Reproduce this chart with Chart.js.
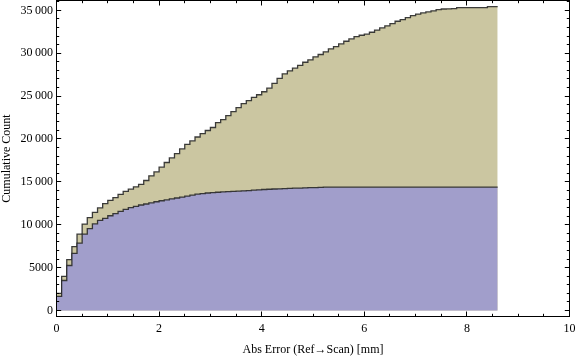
<!DOCTYPE html>
<html><head><meta charset="utf-8">
<script src="https://cdn.jsdelivr.net/npm/chart.js@4"></script>
<style>html,body{margin:0;padding:0;background:#fff}#wrap{width:576px;height:357px}</style>
</head><body><div id="wrap"><canvas id="c" width="576" height="357"></canvas></div>
<script>
// Bin width 0.1 mm, 86 bins from 0 to 8.6
const binWidth = 0.1;
const blueCum = [
 1650,3500,5250,6670,7850,8900,9550,10100,10500,10740,
 11050,11300,11550,11800,12000,12150,12300,12420,12560,12680,
 12800,12900,13020,13120,13230,13340,13450,13560,13640,13700,
 13750,13790,13830,13860,13890,13920,13950,13990,14030,14070,
 14110,14140,14170,14190,14210,14230,14260,14280,14300,14320,
 14340,14360,14380,14380,14380,14380,14380,14380,14380,14380,
 14380,14380,14380,14380,14380,14380,14380,14380,14380,14380,
 14380,14380,14380,14380,14380,14380,14380,14380,14380,14380,
 14380,14380,14380,14380,14380,14380
];
const totalCum = [
 2000,3980,5930,7460,8900,10080,10840,11440,11960,12470,
 12850,13170,13550,13880,14150,14420,14700,15160,15700,16160,
 16710,17260,17790,18300,18840,19380,19770,20230,20630,20990,
 21340,21910,22260,22720,23190,23650,24120,24470,24850,25160,
 25510,25930,26480,27060,27600,27950,28260,28590,28950,29230,
 29580,29850,30160,30510,30780,31090,31400,31670,31940,32100,
 32220,32450,32700,32950,33200,33450,33730,33920,34150,34380,
 34570,34700,34820,34950,35080,35160,35180,35200,35310,35310,
 35310,35310,35310,35310,35430,35430
];
const xTicks = [0,2,4,6,8,10];
const yTicks = [0,5000,10000,15000,20000,25000,30000,35000];
const xMinorStep = 0.5;
const yMinorStep = 1000;
const xTitle = 'Abs Error (Ref\u2192Scan) [mm]';
const yTitle = 'Cumulative Count';

function stepPoints(vals){
  const pts = vals.map((v,i)=>({x: +(i*binWidth).toFixed(2), y: v}));
  pts.push({x: +(vals.length*binWidth).toFixed(2), y: vals[vals.length-1]});
  return pts;
}
function fmt(v){
  if (v >= 10000) { const s = String(v); return s.slice(0, s.length-3) + '\u2009' + s.slice(-3); }
  return String(v);
}
const FONT = {family:'"Liberation Serif", "DejaVu Serif", serif', size:12};

const framePlugin = {
  id:'frame',
  afterDraw(chart){
    const {ctx, chartArea:a, scales:{x,y}} = chart;
    ctx.save();
    ctx.strokeStyle = '#000'; ctx.lineWidth = 1;
    ctx.strokeRect(a.left, a.top, a.right-a.left, a.bottom-a.top);
    ctx.beginPath();
    const xmin = x.min, xmax = x.max;
    for (let k = Math.ceil(xmin/xMinorStep); k*xMinorStep <= xmax + 1e-9; k++){
      const v = k*xMinorStep;
      const major = xTicks.some(t=>Math.abs(t-v)<1e-9);
      const L = major ? 5 : 2.7;
      const px = Math.floor(x.getPixelForValue(v)) + 0.5;
      ctx.moveTo(px, a.bottom); ctx.lineTo(px, a.bottom - L);
      ctx.moveTo(px, a.top); ctx.lineTo(px, a.top + L);
    }
    for (let k = Math.ceil(Math.max(0,y.min)/yMinorStep); k*yMinorStep <= y.max; k++){
      const v = k*yMinorStep;
      const major = yTicks.includes(v);
      const L = major ? 4.7 : 2.7;
      const py = Math.floor(y.getPixelForValue(v)) + 0.5;
      ctx.moveTo(a.left, py); ctx.lineTo(a.left + L, py);
      ctx.moveTo(a.right, py); ctx.lineTo(a.right - L, py);
    }
    ctx.stroke();
    ctx.restore();
  }
};

new Chart(document.getElementById('c'), {
  type:'line',
  data:{datasets:[
    {label:'Series A', data:stepPoints(blueCum), stepped:'before', fill:'origin',
     backgroundColor:'#a19ecb', borderColor:'rgba(40,40,40,0.9)', borderWidth:1.3, pointRadius:0},
    {label:'Series B', data:stepPoints(totalCum), stepped:'before', fill:'origin',
     backgroundColor:'#cbc6a1', borderColor:'rgba(40,40,40,0.9)', borderWidth:1.3, pointRadius:0}
  ]},
  options:{
    responsive:false, animation:false, devicePixelRatio:1,
    layout:{padding:{top:0.5, right:6.5, left:0, bottom:0}},
    plugins:{legend:{display:false}, tooltip:{enabled:false}},
    scales:{
      x:{type:'linear', min:0, max:10,
        afterBuildTicks:s=>{ s.ticks = xTicks.map(v=>({value:v})); },
        grid:{display:false, drawTicks:false}, border:{display:false},
        ticks:{font:FONT, color:'#000', padding:5, maxRotation:0, autoSkip:false, callback:v=>String(v)},
        title:{display:true, text:xTitle, font:FONT, color:'#000', padding:{top:0,bottom:0}},
        afterFit:s=>{ s.height = 40.5; s.paddingLeft = 0; s.paddingRight = 0; s.paddingTop = 0; s.paddingBottom = 0; }
      },
      y:{type:'linear', min:-700, max:36150,
        afterBuildTicks:s=>{ s.ticks = yTicks.map(v=>({value:v})); },
        grid:{display:false, drawTicks:false}, border:{display:false},
        ticks:{font:FONT, color:'#000', padding:3.5, autoSkip:false, callback:v=>fmt(v)},
        title:{display:true, text:yTitle, font:FONT, color:'#000', padding:{top:0,bottom:0}},
        afterFit:s=>{ s.width = 56.5; s.paddingLeft = 0; s.paddingRight = 0; s.paddingTop = 0; s.paddingBottom = 0; }
      }
    }
  },
  plugins:[framePlugin]
});
</script>
</body></html>
